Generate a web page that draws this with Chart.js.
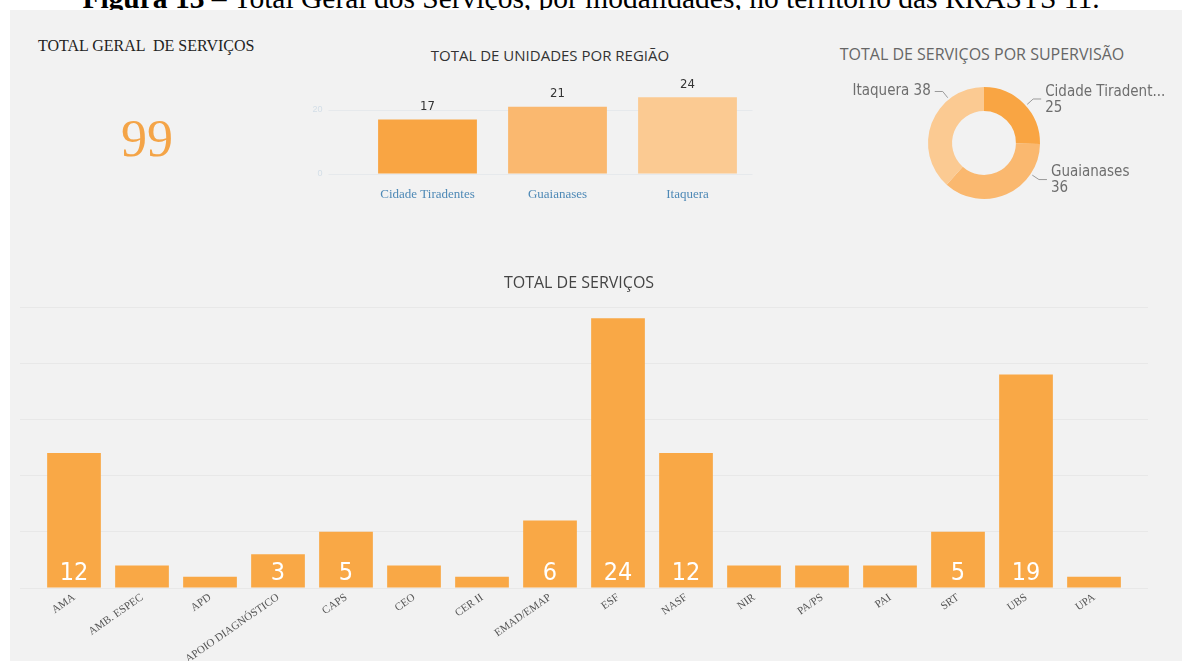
<!DOCTYPE html>
<html>
<head>
<meta charset="utf-8">
<script src="https://cdn.jsdelivr.net/npm/chart.js@4.4.0/dist/chart.umd.min.js"></script>
<style>
  body { margin: 0; width: 1182px; height: 661px; overflow: hidden; background: #fff; position: relative; }
  #panel { position: absolute; left: 10px; top: 10px; width: 1172px; height: 651px; background: #F2F2F2; z-index: 2; }
  #caption { position: absolute; left: 0; top: -16px; width: 1182px; text-align: center; white-space: nowrap;
             font-family: "Liberation Serif", "Times New Roman", serif; font-size: 29.5px; line-height: 29px; color: #000; z-index: 1; }
  #kpiTitle { position: absolute; left: 38px; top: 37px; white-space: pre; font-family: "Liberation Serif", serif; font-size: 16px; color: #222; z-index: 3; }
  #kpiValue { position: absolute; left: 97px; width: 100px; top: 104px; text-align: center; font-family: "Liberation Serif", serif; font-size: 52px; line-height: 70px; color: #F4A447; z-index: 3; }
  .title { position: absolute; white-space: nowrap; font-family: "Open Sans", "Noto Sans", sans-serif; font-size: 15px; line-height: 20px; text-align: center; z-index: 3; }
  canvas { position: absolute; z-index: 3; }
</style>
</head>
<body>
<div id="panel"></div>
<div id="caption"><b>Figura 13</b> – Total Geral dos Serviços, por modalidades, no território das RRASTS 11.</div>
<div id="kpiTitle">TOTAL GERAL  DE SERVIÇOS</div>
<div id="kpiValue"></div>
<div class="title" style="left:400px; width:300px; top:45px; color:#333;">TOTAL DE UNIDADES POR REGIÃO</div>
<div class="title" style="left:832px; width:300px; top:44px; color:#666; font-size:16px;">TOTAL DE SERVIÇOS POR SUPERVISÃO</div>
<canvas id="regiaoChart" width="480" height="150" style="left:290px; top:60px;"></canvas>
<canvas id="supervisaoChart" width="392" height="190" style="left:790px; top:30px;"></canvas>
<canvas id="servicosChart" width="1172" height="399" style="left:10px; top:262px;"></canvas>

<script>
// data
const regioes = ['Cidade Tiradentes', 'Guaianases', 'Itaquera'];
const unidadesPorRegiao = [17, 21, 24];
const regiaoTicks = [0, 20];

const supervisoes = ['Cidade Tiradentes', 'Guaianases', 'Itaquera'];
const servicosPorSupervisao = [25, 36, 38];

const modalidades = ['AMA', 'AMB. ESPEC', 'APD', 'APOIO DIAGNÓSTICO', 'CAPS', 'CEO', 'CER II', 'EMAD/EMAP',
                     'ESF', 'NASF', 'NIR', 'PA/PS', 'PAI', 'SRT', 'UBS', 'UPA'];
const servicosPorModalidade = [12, 2, 1, 3, 5, 2, 1, 6, 24, 12, 2, 2, 2, 5, 19, 1];

const orange = ['#F9A543', '#FAB86F', '#FBCA92'];
const dinFont = '"DejaVu Sans Condensed", "Liberation Sans Narrow", Roboto, sans-serif';

Chart.defaults.animation = false;
Chart.defaults.responsive = false;
Chart.defaults.devicePixelRatio = 1;
Chart.defaults.plugins.legend.display = false;
Chart.defaults.plugins.tooltip.enabled = false;

document.getElementById('kpiValue').textContent = servicosPorModalidade.reduce((a, b) => a + b, 0);


// labels above the region bars
const topValues = {
    id: 'topValues',
    afterDatasetsDraw(chart) {
        const ctx = chart.ctx;
        ctx.save();
        ctx.font = '13px ' + dinFont;
        ctx.fillStyle = '#333';
        ctx.textAlign = 'center';
        ctx.textBaseline = 'middle';
        chart.getDatasetMeta(0).data.forEach((bar, i) => {
            ctx.fillText(chart.data.datasets[0].data[i], bar.x, bar.y - 13);
        });
        ctx.restore();
    }
};

// white labels at the base of the service bars, only where they fit
const baseValues = {
    id: 'baseValues',
    afterDatasetsDraw(chart) {
        const ctx = chart.ctx;
        ctx.save();
        ctx.font = '25px ' + dinFont;
        ctx.fillStyle = '#fff';
        ctx.textAlign = 'center';
        ctx.textBaseline = 'alphabetic';
        chart.getDatasetMeta(0).data.forEach((bar, i) => {
            if (bar.base - bar.y < 30) return;
            ctx.fillText(chart.data.datasets[0].data[i], bar.x, bar.base - 8);
        });
        ctx.restore();
    }
};

// outside labels with leader lines for the doughnut
const sliceLabels = {
    id: 'sliceLabels',
    afterDatasetsDraw(chart, args, opts) {
        const ctx = chart.ctx;
        const ds = chart.data.datasets[0];
        ctx.save();
        ctx.font = '15px ' + dinFont;
        ctx.fillStyle = '#6E6E6E';
        ctx.strokeStyle = '#9A9A9A';
        ctx.lineWidth = 1;
        ctx.textBaseline = 'middle';
        chart.getDatasetMeta(0).data.forEach((arc, i) => {
            const a = arc.startAngle + (arc.endAngle - arc.startAngle) * opts.anchor[i];
            const r = arc.outerRadius;
            const x0 = arc.x + Math.cos(a) * (r + 2), y0 = arc.y + Math.sin(a) * (r + 2);
            const x1 = arc.x + Math.cos(a) * (r + 10), y1 = arc.y + Math.sin(a) * (r + 10);
            const right = Math.cos(a) >= 0;
            const x2 = x1 + (right ? 8 : -8);
            ctx.beginPath();
            ctx.moveTo(x0, y0); ctx.lineTo(x1, y1); ctx.lineTo(x2, y1);
            ctx.stroke();
            const tx = x2 + (right ? 4 : -4);
            let name = chart.data.labels[i];
            if (right) {
                ctx.textAlign = 'left';
                const maxW = chart.width - tx - 16;
                if (ctx.measureText(name).width > maxW) {
                    while (ctx.measureText(name + '...').width > maxW) name = name.slice(0, -1);
                    name += '...';
                }
                ctx.fillText(name, tx, y1 - 7);
                ctx.fillText(ds.data[i], tx, y1 + 9);
            } else {
                ctx.textAlign = 'right';
                ctx.fillText(name + ' ' + ds.data[i], tx, y1);
            }
        });
        ctx.restore();
    }
};


new Chart(document.getElementById('regiaoChart'), {
    type: 'bar',
    data: {
        labels: regioes,
        datasets: [{ data: unidadesPorRegiao, backgroundColor: orange, barPercentage: 0.76, categoryPercentage: 1 }]
    },
    options: {
        layout: { padding: { left: 0, right: 17.5, top: 34, bottom: 0 } },
        scales: {
            x: {
                grid: { display: false, drawTicks: false },
                border: { display: false },
                ticks: { color: '#4E89B6', padding: 13, font: { family: '"Liberation Serif", serif', size: 13 } },
                afterFit: s => { s.height = 36; }
            },
            y: {
                min: 0, max: 25,
                afterBuildTicks: s => { s.ticks = regiaoTicks.map(v => ({ value: v })); },
                grid: { color: '#E6E9EC', drawTicks: true, tickLength: 34 },
                border: { display: false },
                ticks: { color: '#D3DEE7', padding: 6, font: { size: 9 } },
                afterFit: s => { s.width = 72.5; }
            }
        }
    },
    plugins: [topValues]
});


new Chart(document.getElementById('supervisaoChart'), {
    type: 'doughnut',
    data: {
        labels: supervisoes,
        datasets: [{ data: servicosPorSupervisao, backgroundColor: orange, borderWidth: 0 }]
    },
    options: {
        radius: 56,
        cutout: '57%',
        layout: { padding: { left: 0, right: 4, top: 57, bottom: 21 } },
        plugins: {
            sliceLabels: { anchor: [0.53, 0.25, 0.72] }
        }
    },
    plugins: [sliceLabels]
});


new Chart(document.getElementById('servicosChart'), {
    type: 'bar',
    data: {
        labels: modalidades,
        datasets: [{ data: servicosPorModalidade, backgroundColor: '#F9A846', barPercentage: 0.79, categoryPercentage: 1 }]
    },
    options: {
        layout: { padding: { left: 0, right: 34, top: 0, bottom: 0 } },
        plugins: {
            title: {
                display: true, text: 'TOTAL DE SERVIÇOS', color: '#444',
                font: { family: '"Open Sans", "Noto Sans", sans-serif', size: 16, weight: 'normal', lineHeight: 1.2 },
                padding: { top: 11.4, bottom: 14.4 }
            }
        },
        scales: {
            x: {
                grid: { display: false, drawTicks: false },
                border: { display: false },
                ticks: {
                    autoSkip: false, minRotation: 35, maxRotation: 35, padding: 3, color: '#555',
                    font: { family: '"Liberation Serif", serif', size: 11 }
                },
                afterFit: s => { s.height = 73; }
            },
            y: {
                min: 0, max: 25,
                ticks: { display: false, stepSize: 5 },
                grid: { color: '#E8E8E8', drawTicks: true, tickLength: 20 },
                border: { display: false },
                afterFit: s => { s.width = 30; }
            },
            yRight: {
                position: 'right', min: 0, max: 25,
                ticks: { display: false, stepSize: 5 },
                grid: { color: '#E8E8E8', drawOnChartArea: false, drawTicks: true, tickLength: 20 },
                border: { display: false },
                afterFit: s => { s.width = 20; }
            }
        }
    },
    plugins: [baseValues]
});
</script>
</body>
</html>
